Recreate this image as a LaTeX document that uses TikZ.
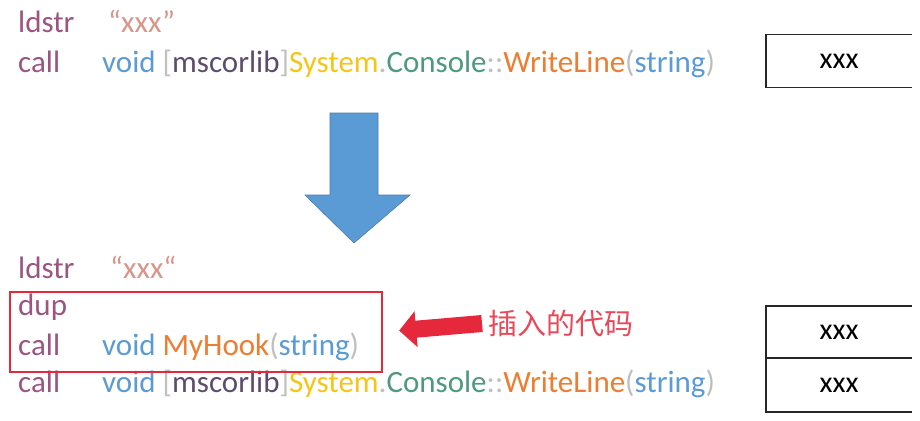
\documentclass[tikz,border=0pt]{standalone}
\usepackage{fontspec}
\setmainfont{Carlito}
\newfontfamily\cjk{Noto Sans CJK SC}
\usepackage{xcolor}
\usetikzlibrary{arrows.meta,positioning,calc,fit}
\definecolor{opc}{HTML}{9B5580}
\definecolor{lit}{HTML}{D9958A}
\definecolor{typ}{HTML}{5B9BD5}
\definecolor{pun}{HTML}{BFBFBF}
\definecolor{asm}{HTML}{5E4B6E}
\definecolor{sys}{HTML}{F5C518}
\definecolor{cons}{HTML}{4E9A7E}
\definecolor{meth}{HTML}{ED7D31}
\definecolor{hookred}{HTML}{E5283C}
\definecolor{flow}{HTML}{5B9BD5}
\tikzset{
  code/.style={anchor=base west,inner sep=0pt,font=\fontsize{31}{36}\selectfont},
  cell/.style={minimum width=146pt,inner sep=0pt,font=\fontsize{30}{36}\selectfont},
  cellline/.style={line width=1.5pt,draw=black!85},
  hookbox/.style={draw=hookred,line width=2.4pt,inner sep=0pt},
  bigarr/.style={fill=flow,draw=flow!80!black,line width=0.6pt},
  redarr/.style={line width=17pt,draw=hookred,-{Triangle[length=17pt,width=35pt]}}
}
\newcommand{\ilop}[1]{\textcolor{opc}{#1}}
\newcommand{\iltype}[1]{\textcolor{typ}{#1}}
\newcommand{\ilpun}[1]{\textcolor{pun}{#1}}
\newcommand{\ilmeth}[1]{\textcolor{meth}{#1}}
\newcommand{\wlcall}{\iltype{void} \ilpun{[}\textcolor{asm}{mscorlib}\ilpun{]}\textcolor{sys}{System}\ilpun{.}\textcolor{cons}{Console}\ilpun{::}\ilmeth{WriteLine}\ilpun{(}\iltype{string}\ilpun{)}}

\begin{document}
\begin{tikzpicture}[x=1pt,y=-1pt]
 \useasboundingbox (0,0) rectangle (920,420);
 % before
 \node[code] (ldA) at (18,33) {\ilop{ldstr}};
 \node[code] (strA) at (108,33) {\textcolor{lit}{“xxx"}};
 \node[code] (callA) at (18,72) {\ilop{call}};
 \node[code] (wlA) at (102,72) {\wlcall};
 \node[cell,minimum height=53pt] (sA) at (839,61) {xxx};
 \draw[cellline] (sA.north east) -- (sA.north west) -- (sA.south west) -- (sA.south east);
 % down arrow
 \draw[bigarr] (330,113) -- (378,113) -- (378,195) -- (410,195) -- (354,243) -- (305,195) -- (330,195) -- cycle;
 % after
 \node[code] (ldB) at (18,278) {\ilop{ldstr}};
 \node[code] (strB) at (110,278) {\textcolor{lit}{“xxx“}};
 \node[code] (dupB) at (18,315) {\ilop{dup}};
 \node[code] (callB) at (18,355) {\ilop{call}};
 \node[code] (hookB) at (102,355) {\iltype{void} \ilmeth{MyHook}\ilpun{(}\iltype{string}\ilpun{)}};
 \node[code] (callC) at (18,392) {\ilop{call}};
 \node[code] (wlB) at (102,392) {\wlcall};
 \node[hookbox,fit={(10,292) (382,372)}] (hook) {};
 \node[anchor=west,inner sep=0pt,text=hookred!85!white,font=\fontsize{29}{34}\selectfont] (note) at (488,323) {\cjk 插入的代码};
 \draw[redarr,shorten <=6pt,shorten >=16pt] (note.west) -- (hook.east);
 \node[cell,minimum height=52pt] (sB1) at (839,332) {xxx};
 \node[cell,minimum height=54pt] (sB2) at (839,385) {xxx};
 \draw[cellline] (sB1.north east) -- (sB1.north west) -- (sB2.south west) -- (sB2.south east);
 \draw[cellline] (sB1.south west) -- (sB1.south east);
\end{tikzpicture}
\end{document}
